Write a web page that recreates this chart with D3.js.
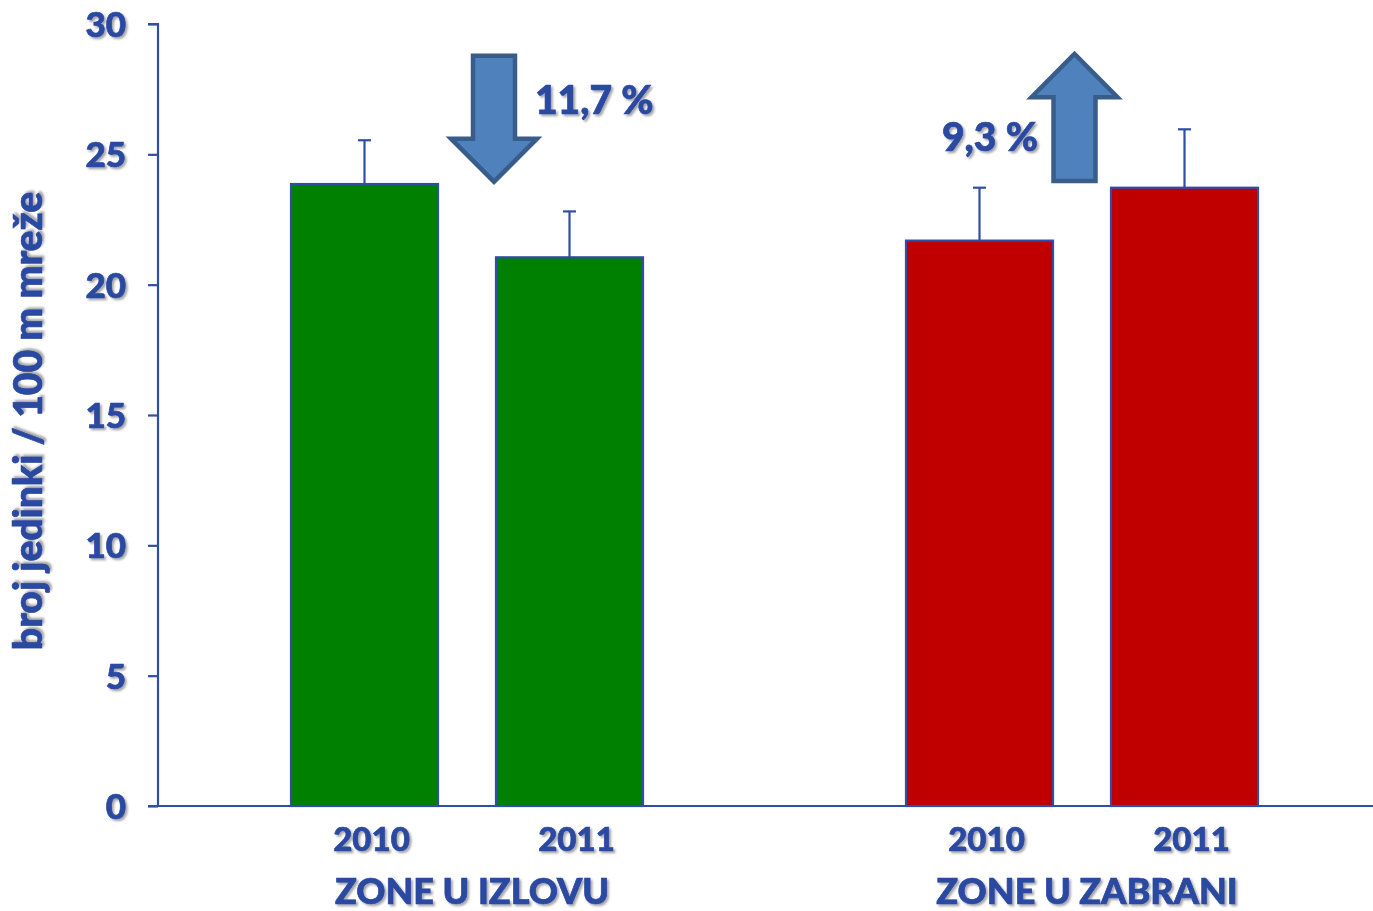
<!DOCTYPE html>
<html><head><meta charset="utf-8">
<script src="https://cdn.jsdelivr.net/npm/d3@7"></script>
<style>
html,body{margin:0;padding:0;background:#fff;}
svg{display:block;}
text{font-family:Lato,"Open Sans",sans-serif;font-weight:900;fill:#2C48A0;stroke:#2C48A0;stroke-width:0.7px;}
</style></head><body>
<svg id="chart" width="1373" height="911"></svg>
<script>
const groups = ["ZONE U IZLOVU", "ZONE U ZABRANI"];
const years = ["2010", "2011"];
const valuesIzlov = [23.86, 21.05];
const valuesZabrana = [21.69, 23.72];
const errIzlov = [1.68, 1.76];
const errZabrana = [2.03, 2.24];
const groupColors = ["#008000", "#C00000"];
const yTicks = [0, 5, 10, 15, 20, 25, 30];
const yLabel = "broj jedinki / 100 m mreže";
const changeLabels = ["11,7 %", "9,3 %"];
const changeDirection = ["down", "up"];
// arrow extents in data units (value axis)
const arrowFrom = [28.78, 23.98];
const arrowTo = [23.95, 28.85];
const arrowHeadLen = [1.65, 1.66];

const svg = d3.select("#chart");
const axisColor = "#2F4EA8";
const margin = {left:158, top:24, bottom:806};

const defs = svg.append("defs");
const f = defs.append("filter").attr("id","shadow").attr("x","-20%").attr("y","-20%").attr("width","140%").attr("height","140%");
f.append("feDropShadow").attr("dx",2).attr("dy",2).attr("stdDeviation",1.3).attr("flood-color","#000").attr("flood-opacity",0.35);

const y = d3.scaleLinear().domain([0,30]).range([806,24]);
const x0 = d3.scaleBand().domain(groups).range([159.5,1389.5]).padding(0);
const x1 = d3.scalePoint().domain(years).range([-102.5,102.5]);
const barW = 147;

const data = [];
groups.forEach((g,gi)=>{
  const vals = gi===0?valuesIzlov:valuesZabrana;
  const errs = gi===0?errIzlov:errZabrana;
  years.forEach((yr,yi)=>{
    data.push({g, gi, yr, v:vals[yi], e:errs[yi], cx:x0(g)+x0.bandwidth()/2+x1(yr)});
  });
});

// y axis
const yAxis = d3.axisLeft(y).tickValues(yTicks).tickSize(10).tickPadding(22).tickFormat(d3.format("d"));
const ya = svg.append("g").attr("transform",`translate(${margin.left},0)`).call(yAxis);
ya.select(".domain").attr("stroke",axisColor).attr("stroke-width",2.2).attr("d",`M-10,${y(30)}H0V${y(0)}`);
ya.selectAll(".tick line").attr("stroke",axisColor).attr("stroke-width",2.2);
ya.selectAll(".tick text").attr("font-size",35).attr("font-family","Lato").attr("filter","url(#shadow)").style("fill","#2C48A0").attr("dy","0.36em");

// error bars (behind bars)
const eb = svg.append("g");
data.forEach(d=>{
  eb.append("line").attr("x1",d.cx).attr("x2",d.cx).attr("y1",y(d.v)).attr("y2",y(d.v+d.e)).attr("stroke",axisColor).attr("stroke-width",2.2);
  eb.append("line").attr("x1",d.cx-6.5).attr("x2",d.cx+6.5).attr("y1",y(d.v+d.e)).attr("y2",y(d.v+d.e)).attr("stroke",axisColor).attr("stroke-width",2.2);
});

// bars
svg.append("g").selectAll("rect").data(data).join("rect")
  .attr("x",d=>d.cx-barW/2).attr("width",barW)
  .attr("y",d=>y(d.v)).attr("height",d=>y(0)-y(d.v))
  .attr("fill",d=>groupColors[d.gi]).attr("stroke",axisColor).attr("stroke-width",2.2);

// x axis line
svg.append("line").attr("x1",148).attr("x2",1373).attr("y1",y(0)).attr("y2",y(0)).attr("stroke",axisColor).attr("stroke-width",2.2);

// year labels
svg.append("g").selectAll("text").data(data).join("text")
  .attr("x",d=>d.cx+7).attr("y",851).attr("text-anchor","middle")
  .attr("font-size",33).attr("filter","url(#shadow)").text(d=>d.yr);
// group labels
svg.append("g").selectAll("text").data(groups).join("text")
  .attr("x",g=>x0(g)+x0.bandwidth()/2+5).attr("y",904).attr("text-anchor","middle")
  .attr("font-size",36).attr("filter","url(#shadow)").text(g=>g);

// y label
svg.append("text").attr("transform","translate(42,421) rotate(-90)").attr("text-anchor","middle")
  .attr("font-size",39).attr("filter","url(#shadow)").text(yLabel);

// arrows
const arrowCx = [494, 1074.5];
const shaftW = 42, headW = 86;
groups.forEach((g,i)=>{
  const cx = arrowCx[i];
  const yStart = y(arrowFrom[i]), yTip = y(arrowTo[i]);
  const dir = changeDirection[i]==="down"?1:-1;
  const yHead = yTip - dir*(Math.abs(y(0)-y(arrowHeadLen[i])));
  const p = d3.path();
  p.moveTo(cx-shaftW/2,yStart); p.lineTo(cx+shaftW/2,yStart);
  p.lineTo(cx+shaftW/2,yHead); p.lineTo(cx+headW/2,yHead);
  p.lineTo(cx,yTip); p.lineTo(cx-headW/2,yHead);
  p.lineTo(cx-shaftW/2,yHead); p.closePath();
  svg.append("path").attr("d",p.toString()).attr("fill","#4F81BD").attr("stroke","#385D8A").attr("stroke-width",4.5).attr("stroke-linejoin","miter");
});
svg.append("text").attr("x",535).attr("y",114).attr("font-size",39).attr("filter","url(#shadow)").text(changeLabels[0]);
svg.append("text").attr("x",942).attr("y",151).attr("font-size",39).attr("filter","url(#shadow)").text(changeLabels[1]);
</script>
</body></html>
